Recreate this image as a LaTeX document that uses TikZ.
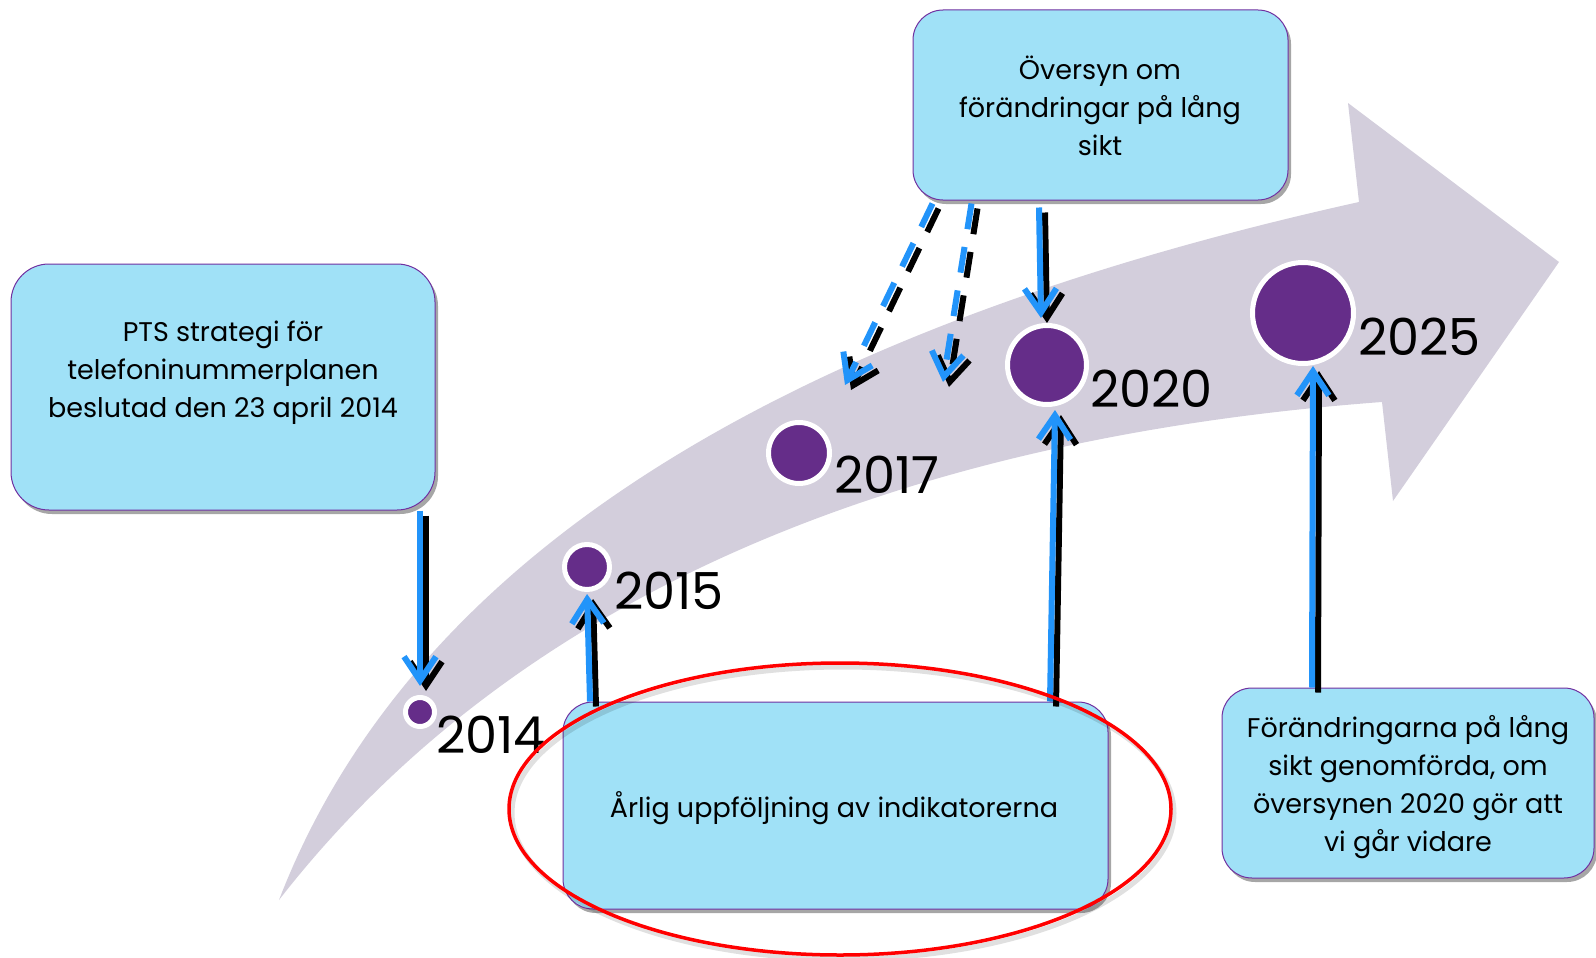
\documentclass[tikz,border=0pt]{standalone}
\usepackage{fontspec}
\setmainfont{Poppins}
\usetikzlibrary{arrows.meta,shadows,calc}
\definecolor{boxfill}{RGB}{160,225,247}
\definecolor{boxborder}{RGB}{112,48,160}
\definecolor{bandgray}{RGB}{211,206,220}
\definecolor{dotpurple}{RGB}{101,45,137}
\definecolor{arrowblue}{RGB}{34,148,250}
\begin{document}
\begin{tikzpicture}[x=1pt,y=-1pt,
  box/.style={rectangle, draw=boxborder, line width=1pt, fill=boxfill, inner sep=0pt,
    drop shadow={shadow xshift=3pt, shadow yshift=-4pt, opacity=0.35, fill=black}},
  boxtext/.style={align=center, font=\fontsize{27}{38}\selectfont, inner sep=0pt, text=black},
  year/.style={anchor=base west, font=\fontsize{51}{60}\selectfont, inner sep=0pt, text=black},
  circ/.style={circle, fill=dotpurple, draw=white, line width=5pt, inner sep=0pt},
  conn/.style={line width=6pt, -{Straight Barb[length=24pt,width=32pt]}},
  blueconn/.style={conn, draw=arrowblue},
  shadowconn/.style={conn, draw=black, transform canvas={xshift=6pt,yshift=-5pt}},
  dashconn/.style={dash pattern=on 26pt off 18pt},
]
\useasboundingbox (0,0) rectangle (1596,958);

% big curved arrow
\fill[bandgray] (279,900) .. controls (408,565) and (768,333) .. (1359,202)
  -- (1348,103) -- (1559,262) -- (1393,501) -- (1382,402)
  .. controls (871,440) and (503,612) .. (279,900) -- cycle;

% milestones
\node[circ, minimum size=29pt] (c2014) at (420,712) {};
\node[circ, minimum size=45pt] (c2015) at (587,567) {};
\node[circ, minimum size=61pt] (c2017) at (799,453) {};
\node[circ, minimum size=79pt] (c2020) at (1047,365) {};
\node[circ, minimum size=101pt] (c2025) at (1303,313) {};

\node[year] (y2014) at (436,753) {2014};
\node[year] (y2015) at (614,609) {2015};
\node[year] (y2017) at (834,493) {2017};
\node[year] (y2020) at (1090,407) {2020};
\node[year] (y2025) at (1358,355) {2025};

% boxes
\node[box, rounded corners=38pt, minimum width=424pt, minimum height=246pt] (b1) at (223,387) {};
\node[box, rounded corners=30pt, minimum width=375pt, minimum height=190pt] (b2) at (1100.5,105) {};
\node[box, rounded corners=30pt, minimum width=545pt, minimum height=207pt] (b3) at (835.5,805.5) {};
\node[box, rounded corners=30pt, minimum width=372pt, minimum height=190pt] (b4) at (1408,783) {};

\node[boxtext] (t1) at (223,373) {PTS strategi för\\telefoninummerplanen\\beslutad den 23 april 2014};
\node[boxtext] (t2) at (1100,106) {Översyn om\\förändringar på lång\\sikt};
\node[boxtext] (t3) at (834,808) {Årlig uppföljning av indikatorerna};
\node[boxtext] (t4) at (1408,787) {Förändringarna på lång\\sikt genomförda, om\\översynen 2020 gör att\\vi går vidare};

% free ends of dashed connectors
\coordinate (d1) at (845,385);
\coordinate (d2) at (943,382);

% connectors: shadow first, then blue
\draw[shadowconn, shorten >=9pt] (c2014 |- b1.south) -- (c2014.north);
\draw[blueconn, shorten >=9pt] (c2014 |- b1.south) -- (c2014.north);

\draw[shadowconn, shorten >=2pt] ([xshift=3pt]c2015 |- b3.north) -- (c2015.south);
\draw[blueconn, shorten >=2pt] ([xshift=3pt]c2015 |- b3.north) -- (c2015.south);

\draw[shadowconn] ([xshift=3pt]c2020 |- b3.north) -- ([xshift=8pt,yshift=-3pt]c2020.south);
\draw[blueconn] ([xshift=3pt]c2020 |- b3.north) -- ([xshift=8pt,yshift=-3pt]c2020.south);

\draw[shadowconn] ([xshift=9pt]c2025 |- b4.north) -- ([xshift=10pt]c2025.south);
\draw[blueconn] ([xshift=9pt]c2025 |- b4.north) -- ([xshift=10pt]c2025.south);

\draw[shadowconn] ([xshift=-8pt,yshift=-7pt]c2020 |- b2.south) -- ([xshift=-6pt,yshift=5pt]c2020.north);
\draw[blueconn] ([xshift=-8pt,yshift=-7pt]c2020 |- b2.south) -- ([xshift=-6pt,yshift=5pt]c2020.north);

\draw[shadowconn, dashconn] ([xshift=20pt,yshift=-3pt]b2.south west) -- (d1);
\draw[blueconn, dashconn] ([xshift=20pt,yshift=-3pt]b2.south west) -- (d1);
\draw[shadowconn, dashconn] ([xshift=59pt,yshift=-3pt]b2.south west) -- (d2);
\draw[blueconn, dashconn] ([xshift=59pt,yshift=-3pt]b2.south west) -- (d2);

% highlight ellipse
\coordinate (hl) at (840,809);
\draw[black, opacity=0.12, line width=5pt] ([xshift=3pt,yshift=-4pt]hl) ellipse [x radius=331, y radius=146];
\draw[red, line width=3.5pt] (hl) ellipse [x radius=331, y radius=146];
\end{tikzpicture}
\end{document}
